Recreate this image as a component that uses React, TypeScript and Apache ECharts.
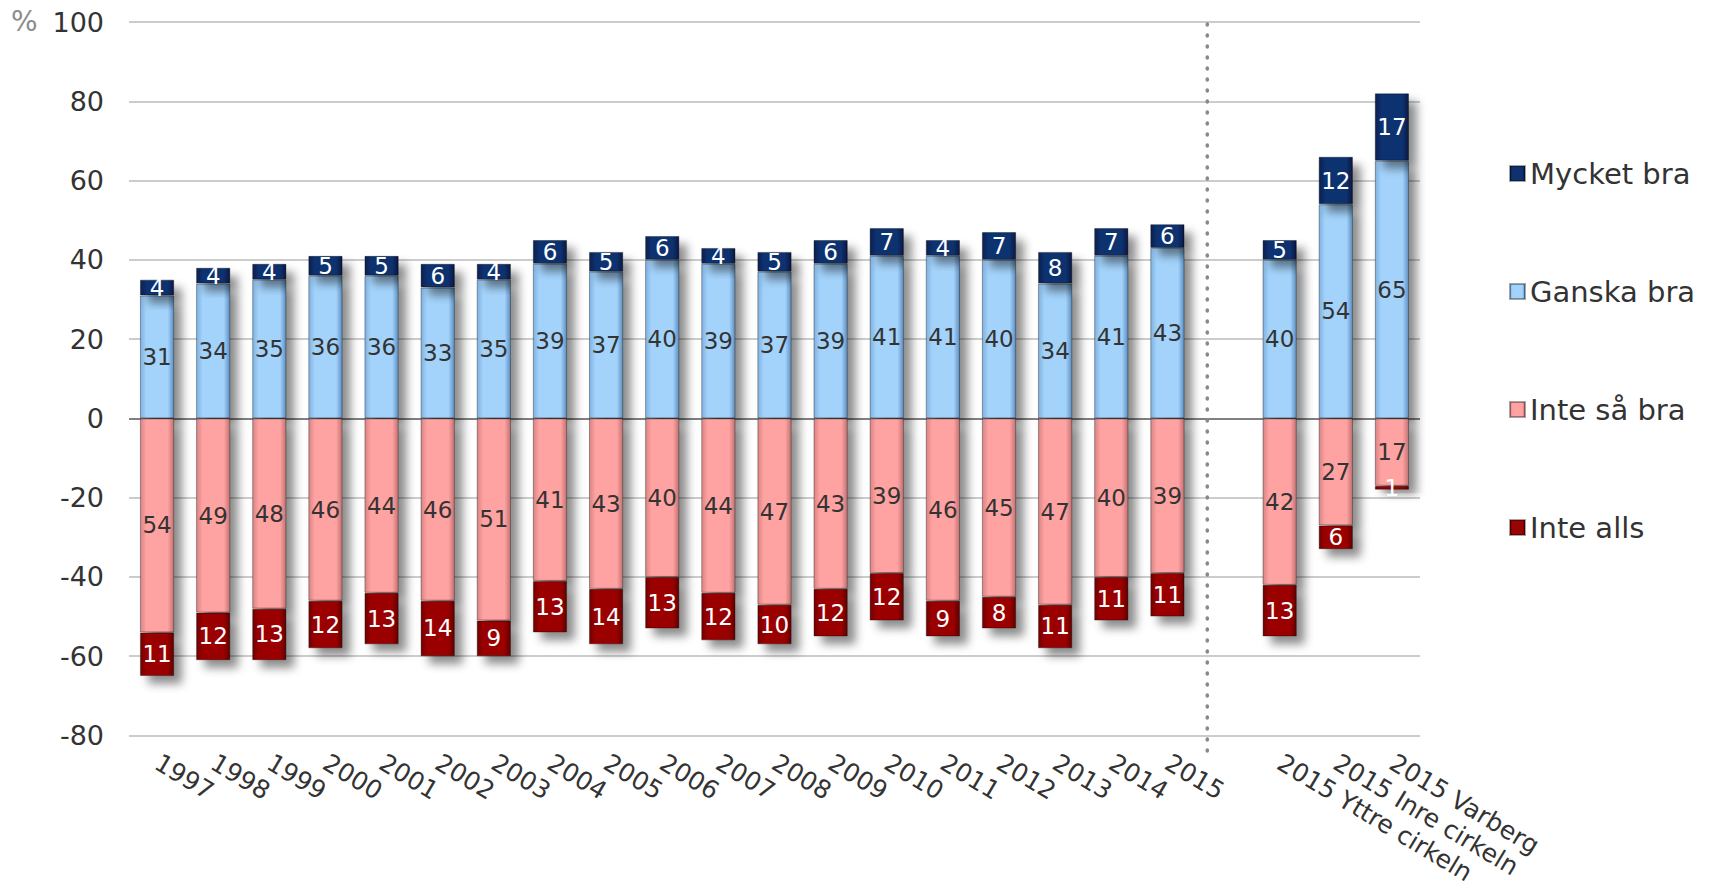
import React, { useEffect, useRef } from 'react';
import * as echarts from 'echarts';

const categories = [
  '1997', '1998', '1999', '2000', '2001', '2002', '2003', '2004', '2005', '2006',
  '2007', '2008', '2009', '2010', '2011', '2012', '2013', '2014', '2015', '',
  '2015 Yttre cirkeln', '2015 Inre cirkeln', '2015 Varberg',
];
const mycketBra = [4, 4, 4, 5, 5, 6, 4, 6, 5, 6, 4, 5, 6, 7, 4, 7, 8, 7, 6, null, 5, 12, 17];
const ganskaBra = [31, 34, 35, 36, 36, 33, 35, 39, 37, 40, 39, 37, 39, 41, 41, 40, 34, 41, 43, null, 40, 54, 65];
const inteSaBra = [54, 49, 48, 46, 44, 46, 51, 41, 43, 40, 44, 47, 43, 39, 46, 45, 47, 40, 39, null, 42, 27, 17];
const inteAlls = [11, 12, 13, 12, 13, 14, 9, 13, 14, 13, 12, 10, 12, 12, 9, 8, 11, 11, 11, null, 13, 6, 1];
const seriesNames = ['Mycket bra', 'Ganska bra', 'Inte så bra', 'Inte alls'];
const yMin = -80;
const yMax = 100;
const yStep = 20;

const FONT = 'DejaVu Sans';

function hGrad(edgeL: string, mid: string, edgeR: string) {
  return {
    type: 'linear', x: 0, y: 0, x2: 1, y2: 0,
    colorStops: [
      { offset: 0, color: edgeL },
      { offset: 0.18, color: mid },
      { offset: 0.82, color: mid },
      { offset: 1, color: edgeR },
    ],
  };
}

const shadow = {
  shadowBlur: 10,
  shadowOffsetX: 8,
  shadowOffsetY: 8,
  shadowColor: 'rgba(0,0,0,0.45)',
  borderColor: 'rgba(0,0,0,0.35)',
  borderWidth: 1,
};

export default function App() {
  const ref = useRef<HTMLDivElement>(null);
  useEffect(() => {
    if (!ref.current) return;
    const chart = echarts.init(ref.current, null, { renderer: 'svg' });
    const neg = (a: (number | null)[]) => a.map((v) => (v == null ? null : -v));
    const lbl = (color: string) => ({
      show: true,
      position: 'inside',
      color,
      fontFamily: FONT,
      fontSize: 23,
      formatter: (p: any) => String(Math.abs(p.value)),
    });
    const splitColors: string[] = [];
    for (let v = yMin; v <= yMax; v += yStep) splitColors.push(v === 0 ? '#808080' : '#cccccc');

    chart.setOption({
      animation: false,
      grid: {
        left: 129, right: 296, top: 22, bottom: 159.5,
        containLabel: false, outerBoundsMode: 'none',
      },
      legend: {
        orient: 'vertical',
        left: 1504,
        top: 154,
        itemWidth: 15,
        itemHeight: 15,
        itemGap: 89,
        icon: 'rect',
        data: seriesNames,
        textStyle: { fontFamily: FONT, fontSize: 29, color: '#333' },
      },
      xAxis: {
        type: 'category',
        data: categories,
        axisLine: { show: false },
        axisTick: { show: false },
        axisLabel: {
          interval: 0,
          rotate: -31,
          margin: 25,
          fontFamily: FONT,
          fontSize: 25,
          color: '#333',
        },
      },
      yAxis: {
        type: 'value',
        min: yMin,
        max: yMax,
        interval: yStep,
        axisLine: { show: false },
        axisTick: { show: false },
        axisLabel: { fontFamily: FONT, fontSize: 27, color: '#333', margin: 25 },
        splitLine: { lineStyle: { color: splitColors, width: 2 } },
      },
      series: [
        {
          name: 'Ganska bra',
          type: 'bar',
          stack: 's',
          barWidth: '61%',
          data: ganskaBra,
          itemStyle: { color: hGrad('#7fb2e2', '#a3d3fb', '#5e8fc0'), ...shadow },
          label: lbl('#333'),
        },
        {
          name: 'Mycket bra',
          type: 'bar',
          stack: 's',
          data: mycketBra,
          itemStyle: { color: hGrad('#08204f', '#0f3170', '#061840'), ...shadow },
          label: lbl('#ffffff'),
        },
        {
          name: 'Inte så bra',
          type: 'bar',
          stack: 's',
          data: neg(inteSaBra),
          itemStyle: { color: hGrad('#d98484', '#ffa2a2', '#c47272'), ...shadow },
          label: lbl('#333'),
        },
        {
          name: 'Inte alls',
          type: 'bar',
          stack: 's',
          data: neg(inteAlls),
          itemStyle: { color: hGrad('#720000', '#9a0404', '#600000'), ...shadow },
          label: lbl('#ffffff'),
        },
      ],
    });

    const xa = chart.convertToPixel({ xAxisIndex: 0 }, '2015') as number;
    const xb = chart.convertToPixel({ xAxisIndex: 0 }, '2015 Yttre cirkeln') as number;
    const yTop = chart.convertToPixel({ yAxisIndex: 0 }, yMax) as number;
    const yBot = chart.convertToPixel({ yAxisIndex: 0 }, yMin) as number;
    const lx = xa + (xb - xa) * 0.355;
    chart.setOption({
      graphic: [
        {
          type: 'line',
          shape: { x1: lx, y1: yTop + 2, x2: lx, y2: yBot + 21 },
          style: { stroke: '#888888', lineWidth: 3.5, lineDash: [1, 10], lineCap: 'round' },
          z: 10,
        },
        {
          type: 'text',
          left: 11,
          top: yTop - 15,
          style: { text: '%', fontFamily: FONT, fontSize: 28, fill: '#8c8c8c' },
        },
      ],
    });

    return () => chart.dispose();
  }, []);
  return (
    <div
      ref={ref}
      style={{ position: 'absolute', left: 0, top: 0, width: 1716, height: 895, background: '#fff' }}
    />
  );
}
